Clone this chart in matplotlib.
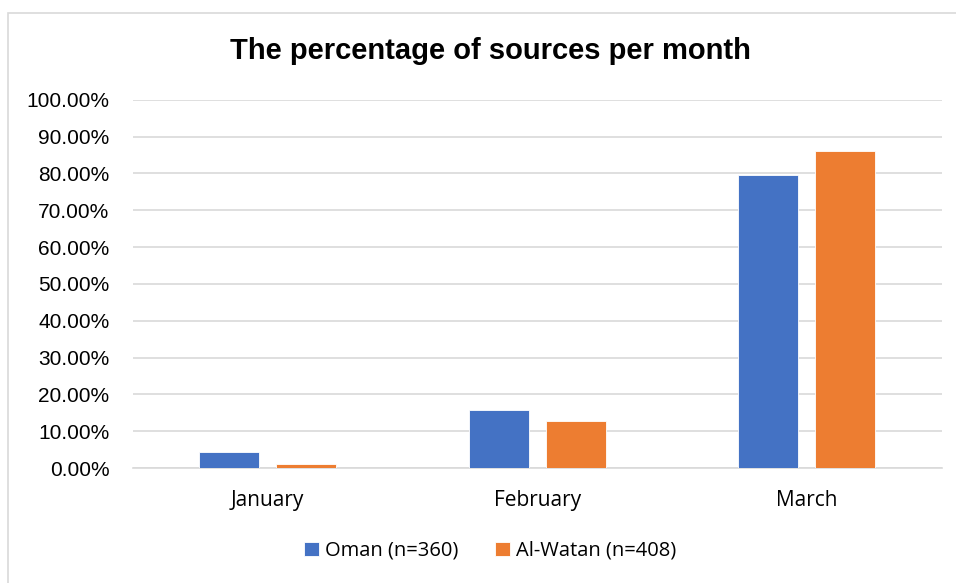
import matplotlib.pyplot as plt
import numpy as np
from matplotlib.patches import Rectangle

# Share of sources by month for each newspaper
months = ['January', 'February', 'March']
oman = [4.5, 15.9, 79.6]
al_watan = [1.1, 12.9, 86.1]
series_names = ['Oman (n=360)', 'Al-Watan (n=408)']

blue = '#4472C4'
orange = '#ED7D31'

fig = plt.figure(figsize=(9.56, 5.83), dpi=100)
ax = fig.add_axes([0.139, 0.197, 0.846, 0.632])

# light frame around the whole chart
fig.patches.append(Rectangle((8 / 956, -0.05), 1.1, (583 - 13) / 583 + 0.05,
                             transform=fig.transFigure, fill=False,
                             edgecolor='#D9D9D9', linewidth=1.2))

x = np.arange(len(months))
w = 0.222
off = 0.143
ax.bar(x - off, oman, w, color=blue, edgecolor='white', linewidth=0.6,
       label=series_names[0], zorder=3)
ax.bar(x + off, al_watan, w, color=orange, edgecolor='white', linewidth=0.6,
       label=series_names[1], zorder=3)

ax.set_xlim(-0.5, 2.5)
ax.set_ylim(0, 100)
yt = np.arange(0, 101, 10)
ax.set_yticks(yt)
ax.set_yticklabels([f'{v:.2f}%' for v in yt], fontsize=15,
                   family='Liberation Sans')
ax.set_xticks(x)
ax.set_xticklabels(months, fontsize=15, family='Open Sans')
ax.tick_params(axis='both', length=0)
ax.tick_params(axis='y', pad=17)
ax.tick_params(axis='x', pad=16)

ax.grid(axis='y', color='#D9D9D9', linewidth=1.2, zorder=0)
for s in ['top', 'right', 'left']:
    ax.spines[s].set_visible(False)
ax.spines['bottom'].set_color('#D9D9D9')
ax.spines['bottom'].set_linewidth(1.2)

fig.text(0.513, 0.913, 'The percentage of sources per month', ha='center',
         va='center', fontsize=21, fontweight='bold', family='Liberation Sans')

leg = fig.legend(loc='center', bbox_to_anchor=(0.513, 0.055), ncol=2,
                 frameon=False, handlelength=0.75, handleheight=0.75,
                 handletextpad=0.3, columnspacing=1.8,
                 prop={'family': 'Open Sans', 'size': 14.5})

fig.savefig('out.png', dpi=100)
